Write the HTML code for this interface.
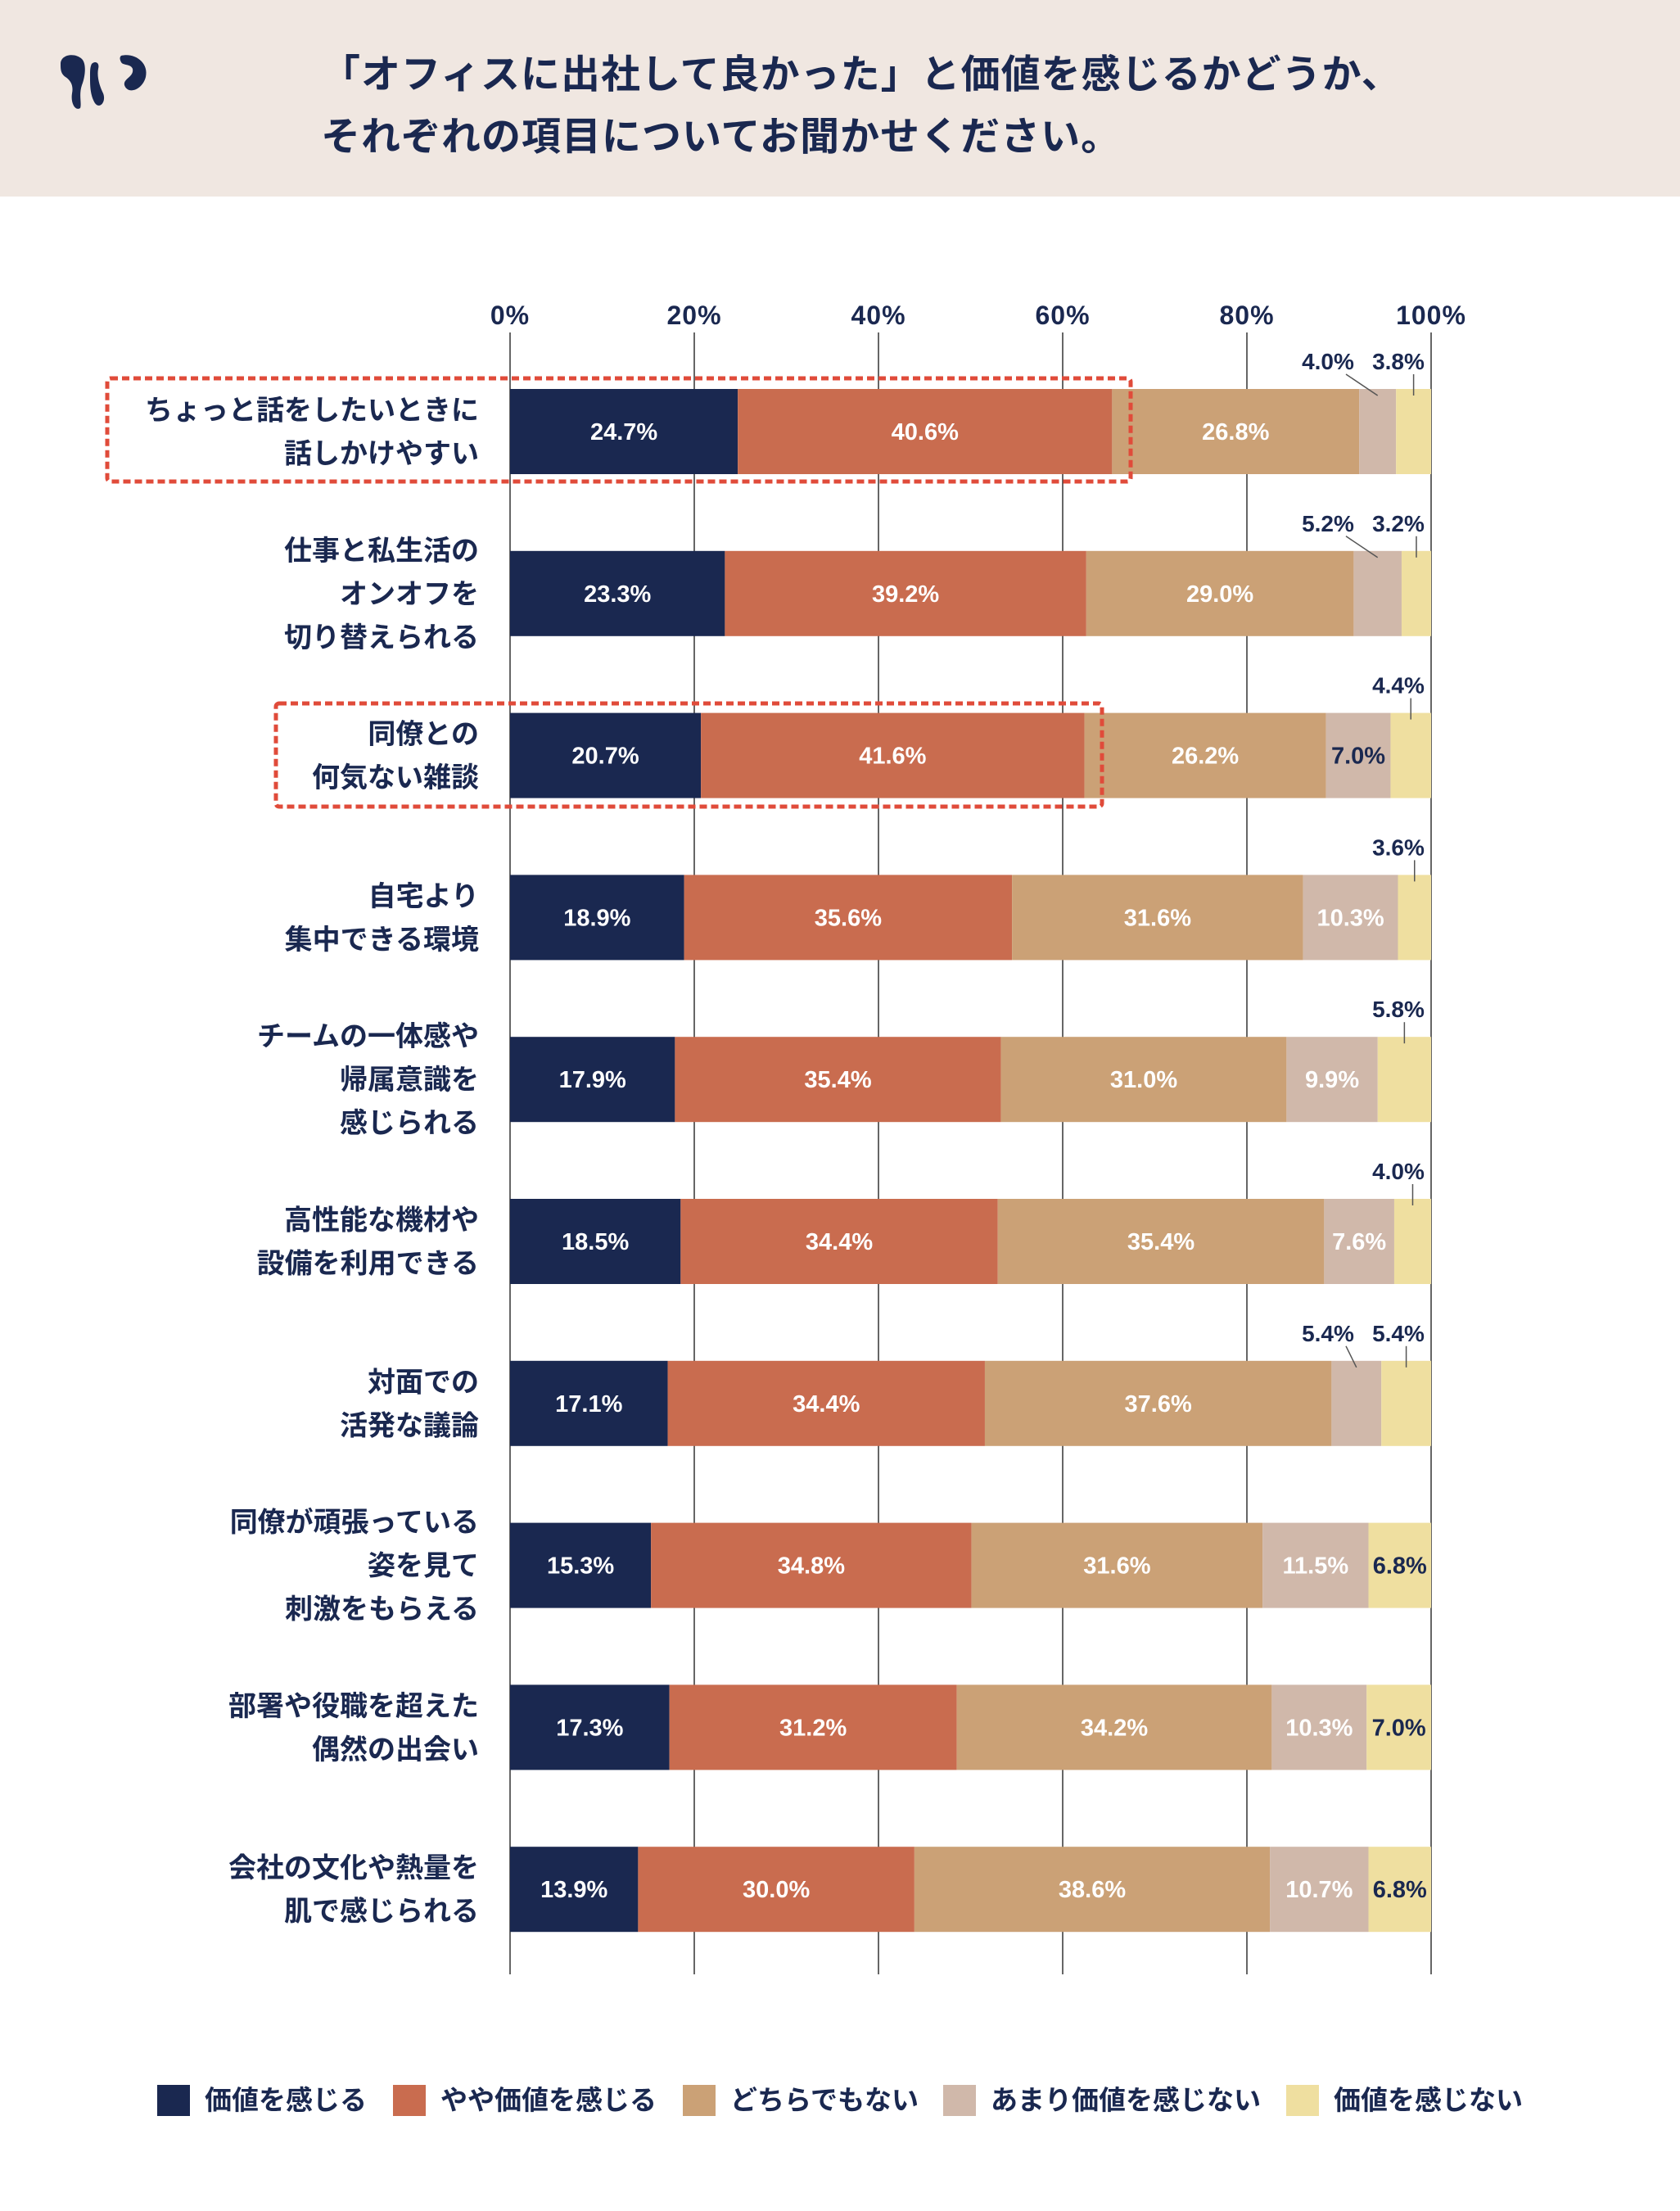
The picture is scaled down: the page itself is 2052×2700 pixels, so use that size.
<!DOCTYPE html>
<html><head><meta charset="utf-8"><style>
body{margin:0;width:2052px;height:2700px;background:#fff;overflow:hidden;font-family:"Liberation Sans","Noto Sans CJK JP",sans-serif;}
#hdr{position:absolute;left:0;top:0;width:2052px;height:240px;background:#f0e7e1;}
#title{position:absolute;left:392px;top:54px;font-size:48px;font-weight:bold;color:#1a2850;line-height:76px;letter-spacing:1px;}
</style></head><body>
<div id="hdr">
<svg style="position:absolute;left:70px;top:64px" width="120" height="72" viewBox="0 0 120 72">
<path d="M4 14 C4 2 22 0 30 8 C36 14 34 30 30 40 C26 52 30 62 28 68 C22 72 16 62 18 50 C20 40 16 34 10 30 C4 26 4 20 4 14Z" fill="#1a2850"/>
<path d="M42 14 C46 10 52 12 50 20 C48 30 52 42 56 50 C60 60 52 70 46 62 C40 52 40 40 40 30 C40 22 40 18 42 14Z" fill="#1a2850"/>
<path d="M78 4 C94 0 112 12 108 30 C104 46 86 52 82 40 C80 32 94 30 92 20 C90 14 80 16 78 12 C76 8 76 6 78 4Z" fill="#1a2850"/>
</svg>
<div id="title">「オフィスに出社して良かった」と価値を感じるかどうか、<br>それぞれの項目についてお聞かせください。</div>
</div>
<svg id="chart" style="position:absolute;left:0;top:0" width="2052" height="2700"></svg>
<script>
const categories=[["ちょっと話をしたいときに","話しかけやすい"],["仕事と私生活の","オンオフを","切り替えられる"],["同僚との","何気ない雑談"],["自宅より","集中できる環境"],["チームの一体感や","帰属意識を","感じられる"],["高性能な機材や","設備を利用できる"],["対面での","活発な議論"],["同僚が頑張っている","姿を見て","刺激をもらえる"],["部署や役職を超えた","偶然の出会い"],["会社の文化や熱量を","肌で感じられる"]];
const seriesNames=["価値を感じる","やや価値を感じる","どちらでもない","あまり価値を感じない","価値を感じない"];
const s1=[24.7,23.3,20.7,18.9,17.9,18.5,17.1,15.3,17.3,13.9];
const s2=[40.6,39.2,41.6,35.6,35.4,34.4,34.4,34.8,31.2,30.0];
const s3=[26.8,29.0,26.2,31.6,31.0,35.4,37.6,31.6,34.2,38.6];
const s4=[4.0,5.2,7.0,10.3,9.9,7.6,5.4,11.5,10.3,10.7];
const s5=[3.8,3.2,4.4,3.6,5.8,4.0,5.4,6.8,7.0,6.8];
const ticks=[0,20,40,60,80,100];
const highlighted=[0,2];

const colors=["#1a2850","#c96c4f","#cba176","#d0b8aa","#efdfa0"];
const NS="http://www.w3.org/2000/svg";
const svg=document.getElementById('chart');
const X0=623,X1=1748,TOP0=475,PITCH=197.8,BH=104;
const xs=v=>X0+(X1-X0)*v/100;
const yb=i=>TOP0+i*PITCH;
function mk(t,a,p){const e=document.createElementNS(NS,t);for(const k in a)e.setAttribute(k,a[k]);(p||svg).appendChild(e);return e;}
const F='"Liberation Sans","Noto Sans CJK JP",sans-serif';
ticks.forEach(t=>{
 const l=mk('line',{x1:xs(t),x2:xs(t),y1:406,y2:2411,stroke:'#333','stroke-width':1.5});
 
 
 const tx=mk('text',{x:xs(t),y:396,'text-anchor':'middle','font-size':32,'font-weight':'bold',fill:'#1a2850','font-family':F,'letter-spacing':1});
 tx.textContent=t+'%';
 
 
});
const series=[s1,s2,s3,s4,s5];
categories.forEach((c,i)=>{
 const vals=series.map(s=>s[i]);const tot=vals.reduce((a,b)=>a+b,0);
 let acc=0;const y=yb(i);
 vals.forEach((v,j)=>{
  const a=acc/tot*100,b=(acc+v)/tot*100;acc+=v;
  const r=mk('rect',{x:xs(a),y:y,width:xs(b)-xs(a),height:BH,fill:colors[j]});
  
  
  const cx=(xs(a)+xs(b))/2;
  const lab=v.toFixed(1)+'%';
  if(v<6&&j>=3){
   const lx=j===4?1708:(vals[4]<6?1622:1708);
   const t=mk('text',{x:lx,y:y-24,'text-anchor':'middle','font-size':28,'font-weight':'bold',fill:'#1a2850','font-family':F});
   t.textContent=lab;
   
   
   const ln=mk('line',{x1:j===4?cx:lx+22,y1:y-18,x2:cx,y2:y+8,stroke:'#555','stroke-width':1.5});
   
   
  }else{
   const dark=(j===4)||(j===3&&i===2);
   const t=mk('text',{x:cx,y:y+BH/2+10,'text-anchor':'middle','font-size':29,'font-weight':'bold',fill:dark?'#1a2850':'#fff','font-family':F});
   t.textContent=lab;
   
   
  }
 });
 const n=c.length,lh=53,cy=y+BH/2;
 c.forEach((line,k)=>{
  const t=mk('text',{x:585,y:cy+(k-(n-1)/2)*lh+12,'text-anchor':'end','font-size':34,'font-weight':'bold',fill:'#1a2850','font-family':F});
  t.textContent=line;
  
  
 });
});
const boxes={0:[131,462,1381,588],2:[337,859,1346,985]};
highlighted.forEach(i=>{const b=boxes[i];
 const r=mk('rect',{x:b[0],y:b[1],width:b[2]-b[0],height:b[3]-b[1],fill:'none',stroke:'#e04b3a','stroke-width':5,'stroke-dasharray':'9 5',rx:4});
 
 
});
const lx=[192,480,834,1152,1571];
seriesNames.forEach((s,j)=>{
 const r=mk('rect',{x:lx[j],y:2546,width:40,height:38,fill:colors[j]});
 
 
 const t=mk('text',{x:lx[j]+58,y:2576,'font-size':33,'font-weight':'bold',fill:'#1a2850','font-family':F});
 t.textContent=s;
 
 
});
</script>
</body></html>
